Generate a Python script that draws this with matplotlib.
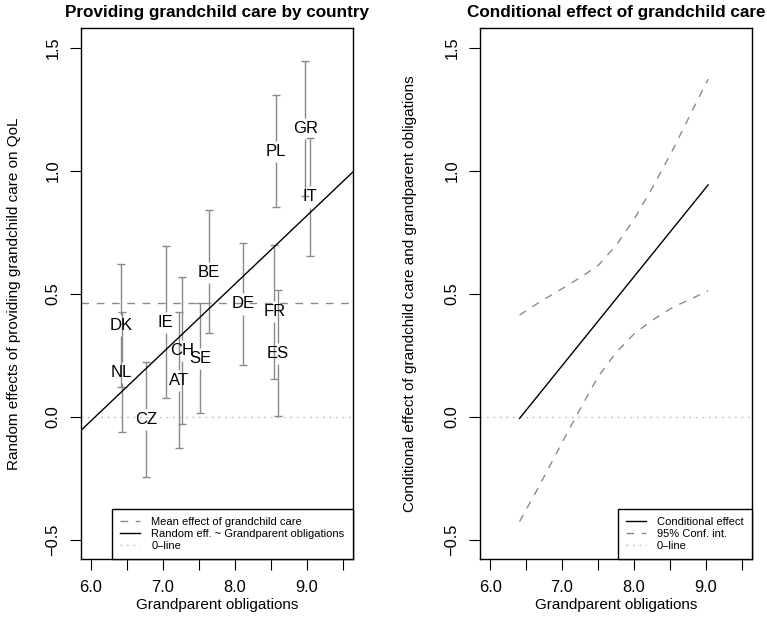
import matplotlib
matplotlib.use("Agg")
import matplotlib.pyplot as plt
from matplotlib.lines import Line2D
from matplotlib.ticker import FixedLocator, FuncFormatter

plt.rcParams['font.family'] = ['Liberation Sans', 'DejaVu Sans']
plt.rcParams['axes.unicode_minus'] = True

# ---------------- data (left panel) ----------------
countries = ["DK", "NL", "CZ", "IE", "AT", "CH", "SE", "BE", "DE", "FR", "ES", "PL", "GR", "IT"]
obligations = [6.42, 6.43, 6.77, 7.04, 7.23, 7.27, 7.52, 7.64, 8.12, 8.55, 8.60, 8.57, 8.98, 9.04]
effects = [0.370, 0.181, -0.012, 0.383, 0.148, 0.268, 0.238, 0.587, 0.458, 0.426, 0.258, 1.079, 1.173, 0.893]
ci_low = [0.119, -0.061, -0.244, 0.074, -0.127, -0.030, 0.015, 0.338, 0.210, 0.153, 0.001, 0.851, 0.899, 0.653]
ci_high = [0.621, 0.424, 0.221, 0.692, 0.424, 0.566, 0.462, 0.839, 0.706, 0.698, 0.515, 1.308, 1.447, 1.133]
mean_effect = 0.46
reg_intercept = -1.686
reg_slope = 0.278

# ---------------- data (right panel) ----------------
cond_x = [6.41, 9.03]
cond_y = [-0.007, 0.942]
band_x = [6.41, 6.69, 7.00, 7.24, 7.50, 7.75, 8.00, 8.26, 8.54, 8.82, 9.03]
band_upper = [0.413, 0.466, 0.520, 0.563, 0.614, 0.696, 0.802, 0.933, 1.085, 1.250, 1.372]
band_lower = [-0.427, -0.278, -0.106, 0.025, 0.162, 0.260, 0.336, 0.393, 0.445, 0.482, 0.512]

x_ticks = [6.0, 6.5, 7.0, 7.5, 8.0, 8.5, 9.0, 9.5]
y_ticks = [-0.5, 0.0, 0.5, 1.0, 1.5]

GRAY = '#8a8a8a'
LIGHT = '#bdbdbd'
DASH = (0, (5.5, 5.5))
DOT = (0, (1.2, 3.5))

W, H = 767, 623
fig = plt.figure(figsize=(W / 100, H / 100), dpi=100)


def px_axes(l, t, r, b):
    return [l / W, 1 - b / H, (r - l) / W, (b - t) / H]


ax1 = fig.add_axes(px_axes(80.7, 28, 352.7, 559.3))
ax2 = fig.add_axes(px_axes(480, 28, 752, 559.3))


def xfmt(v, pos):
    return f"{v:.1f}" if abs(v - round(v)) < 1e-6 else ""


for ax in (ax1, ax2):
    ax.set_xlim(5.86, 9.64)
    ax.set_ylim(-0.58, 1.58)
    ax.xaxis.set_major_locator(FixedLocator(x_ticks))
    ax.xaxis.set_major_formatter(FuncFormatter(xfmt))
    ax.yaxis.set_major_locator(FixedLocator(y_ticks))
    ax.yaxis.set_major_formatter(FuncFormatter(lambda v, p: f"{v:.1f}".replace("-", "\u2212")))
    ax.tick_params(direction='out', length=7.7, width=0.8, pad=7, labelsize=11.8, colors='black')
    ax.tick_params(axis='y', labelrotation=90)
    for lab in ax.get_yticklabels():
        lab.set_verticalalignment('center')
    for s in ax.spines.values():
        s.set_linewidth(1.0)
        s.set_color('black')
    ax.xaxis.set_label_coords(0.5, -0.086)

# ---------------- left panel ----------------
ax1.axhline(0, color=LIGHT, ls=DOT, lw=1.0, zorder=1)
ax1.axhline(mean_effect, color=GRAY, ls=DASH, lw=1.0, zorder=1)
ax1.axline((0, reg_intercept), slope=reg_slope, color='black', lw=1.0, zorder=3)

gap = 0.043
for c, x, e, lo, hi in zip(countries, obligations, effects, ci_low, ci_high):
    ax1.vlines(x, e + gap, hi, color=GRAY, lw=1.0, zorder=2)
    ax1.vlines(x, lo, e - gap, color=GRAY, lw=1.0, zorder=2)
    ax1.plot([x, x], [lo, hi], ls='none', marker='_', ms=6, mew=1.0, color=GRAY, zorder=2)
    ax1.text(x, e, c, ha='center', va='center', fontsize=12, zorder=4)

ax1.set_title("Providing grandchild care by country", fontsize=12.3, fontweight='bold', pad=8)
ax1.set_xlabel("Grandparent obligations", fontsize=11, va='center')
ax1.set_ylabel("Random effects of providing grandchild care on QoL", fontsize=11, va='center')
ax1.yaxis.set_label_coords(-0.245, 0.5)

legend_kw = dict(loc='lower right', borderaxespad=0, fancybox=False, framealpha=1,
                 edgecolor='black', fontsize=8, handlelength=1.8, handletextpad=1.0,
                 labelspacing=0.17, borderpad=0.75)

h1 = [Line2D([], [], color=GRAY, ls=DASH, lw=1.0),
      Line2D([], [], color='black', lw=1.0),
      Line2D([], [], color=LIGHT, ls=DOT, lw=1.0)]
leg1 = ax1.legend(h1, ["Mean effect of grandchild care",
                       "Random eff. ~ Grandparent obligations", "0\u2013line"], **legend_kw)
leg1.get_frame().set_linewidth(1.0)

# ---------------- right panel ----------------
ax2.axhline(0, color=LIGHT, ls=DOT, lw=1.0, zorder=1)
ax2.plot(cond_x, cond_y, color='black', lw=1.0, zorder=3)
ax2.plot(band_x, band_upper, color=GRAY, ls=DASH, lw=1.0, zorder=2)
ax2.plot(band_x, band_lower, color=GRAY, ls=DASH, lw=1.0, zorder=2)

ax2.set_title("Conditional effect of grandchild care", fontsize=12.3, fontweight='bold', pad=8)
ax2.set_xlabel("Grandparent obligations", fontsize=11, va='center')
ax2.set_ylabel("Conditional effect of grandchild care and grandparent obligations", fontsize=11, va='center')
ax2.yaxis.set_label_coords(-0.257, 0.5)

h2 = [Line2D([], [], color='black', lw=1.0),
      Line2D([], [], color=GRAY, ls=DASH, lw=1.0),
      Line2D([], [], color=LIGHT, ls=DOT, lw=1.0)]
leg2 = ax2.legend(h2, ["Conditional effect", "95% Conf. int.", "0\u2013line"], **legend_kw)
leg2.get_frame().set_linewidth(1.0)

fig.savefig("out.png", dpi=100)
